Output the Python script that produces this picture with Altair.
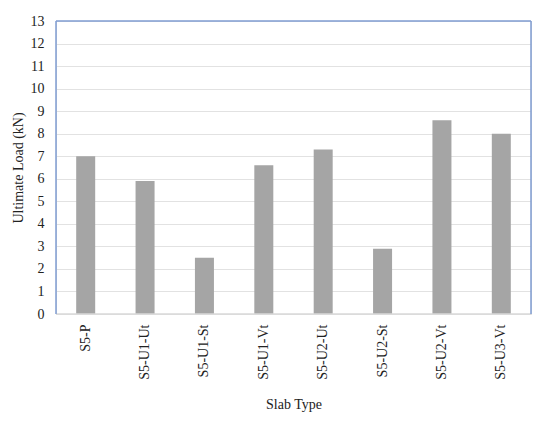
import altair as alt
import pandas as pd

slabs = ["S5-P", "S5-U1-Ut", "S5-U1-St", "S5-U1-Vt", "S5-U2-Ut", "S5-U2-St", "S5-U2-Vt", "S5-U3-Vt"]
loads = [7.0, 5.9, 2.5, 6.6, 7.3, 2.9, 8.6, 8.0]
y_ticks = list(range(0, 14))

df = pd.DataFrame({"slab": slabs, "load": loads})
FONT = "Liberation Serif"
W, H = 475, 293
BLUE = "#7f9dd2"

yscale = alt.Scale(domain=[0, 13], nice=False, zero=True)

bars = alt.Chart(df).mark_bar(color="#a5a5a5").encode(
    x=alt.X("slab:N", sort=slabs, title="Slab Type",
            scale=alt.Scale(paddingInner=0.68, paddingOuter=0.34),
            axis=alt.Axis(labelAngle=-90, labelFontSize=14, labelFont=FONT, labelColor="#222",
                          labelPadding=10, ticks=False, domain=False,
                          titleFont=FONT, titleFontSize=14, titleFontWeight="normal",
                          titleColor="#222", titlePadding=18)),
    y=alt.Y("load:Q", title="Ultimate Load (kN)", scale=yscale,
            axis=alt.Axis(values=y_ticks, tickCount=14, labelOverlap=False, ticks=False,
                          domain=False, labelFontSize=14,
                          labelFont=FONT, labelColor="#222", labelPadding=12,
                          gridColor="#e2e2e2", gridWidth=1.2,
                          titleFont=FONT, titleFontSize=14, titleFontWeight="normal",
                          titleColor="#222", titlePadding=5)),
)

one = pd.DataFrame({"k": [0]})
bottom_rule = alt.Chart(one).mark_rule(color="#d9d9d9", strokeWidth=1.5).encode(
    y=alt.value(H), x=alt.value(0), x2=alt.value(W))
left_rule = alt.Chart(one).mark_rule(color=BLUE, strokeWidth=1.5).encode(
    x=alt.value(0), y=alt.value(0), y2=alt.value(H))
right_rule = alt.Chart(one).mark_rule(color=BLUE, strokeWidth=1.5).encode(
    x=alt.value(W), y=alt.value(0), y2=alt.value(H))
top_rule = alt.Chart(one).mark_rule(color=BLUE, strokeWidth=1.5).encode(
    y=alt.value(0), x=alt.value(0), x2=alt.value(W))

chart = alt.layer(bars, bottom_rule, left_rule, right_rule, top_rule).properties(
    width=W, height=H,
    autosize=alt.AutoSizeParams(type="none"),
    padding={"left": 48, "top": 13, "right": 11, "bottom": 99},
).configure_view(stroke=None).configure(background="white")

chart.save("out.html", embed_options={"renderer": "svg", "actions": False})
